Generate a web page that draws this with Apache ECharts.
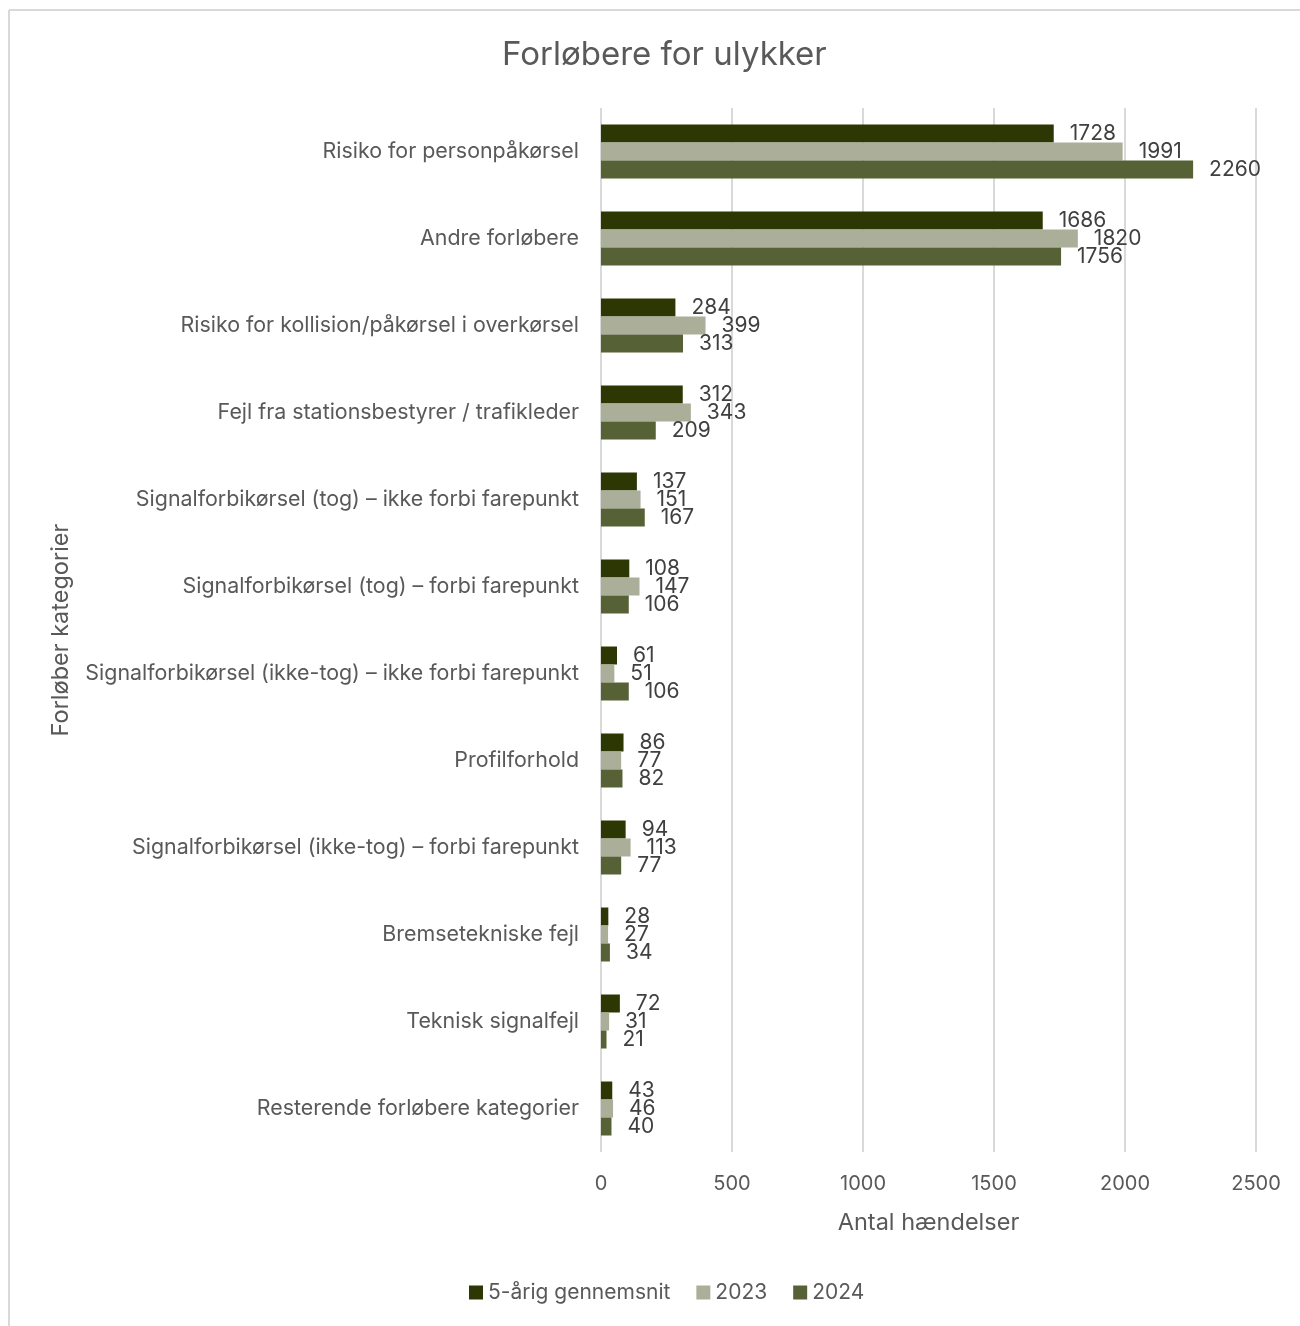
<!DOCTYPE html>
<html>
<head>
<meta charset="utf-8">
<script src="https://cdn.jsdelivr.net/npm/echarts@6/dist/echarts.min.js"></script>
<style>
  html, body { margin: 0; padding: 0; background: #fff; }
  #chart { width: 1300px; height: 1326px; }
</style>
</head>
<body>
<div id="chart"></div>
<script>
// Categories of accident precursors, top to bottom
const categories = [
  'Risiko for personpåkørsel',
  'Andre forløbere',
  'Risiko for kollision/påkørsel i overkørsel',
  'Fejl fra stationsbestyrer / trafikleder',
  'Signalforbikørsel (tog) – ikke forbi farepunkt',
  'Signalforbikørsel (tog) – forbi farepunkt',
  'Signalforbikørsel (ikke-tog) – ikke forbi farepunkt',
  'Profilforhold',
  'Signalforbikørsel (ikke-tog) – forbi farepunkt',
  'Bremsetekniske fejl',
  'Teknisk signalfejl',
  'Resterende forløbere kategorier'
];

const seriesNames = ['5-årig gennemsnit', '2023', '2024'];

const avg5yr  = [1728, 1686, 284, 312, 137, 108, 61, 86, 94, 28, 72, 43];
const year2023 = [1991, 1820, 399, 343, 151, 147, 51, 77, 113, 27, 31, 46];
const year2024 = [2260, 1756, 313, 209, 167, 106, 106, 82, 77, 34, 21, 40];

const xTicks = { min: 0, max: 2500, interval: 500 };

const colors = ['#2c3704', '#abaf9a', '#566136'];
const FONT = 'Inter, "Noto Sans", sans-serif';
const TEXT = '#595959';

const chart = echarts.init(document.getElementById('chart'), null, { renderer: 'canvas' });

const valueSets = [avg5yr, year2023, year2024];

chart.setOption({
  backgroundColor: '#ffffff',
  animation: false,
  color: colors,
  title: {
    text: 'Forløbere for ulykker',
    left: 497,
    top: 34,
    textStyle: { fontFamily: FONT, fontSize: 33, fontWeight: 'normal', color: TEXT }
  },
  legend: {
    data: seriesNames,
    bottom: 18,
    left: 464,
    itemWidth: 14,
    itemHeight: 14,
    itemGap: 26,
    icon: 'rect',
    textStyle: { fontFamily: FONT, fontSize: 21, color: TEXT }
  },
  grid: { left: 601, right: 44, top: 108, bottom: 174, containLabel: false },
  xAxis: {
    type: 'value',
    min: xTicks.min,
    max: xTicks.max,
    interval: xTicks.interval,
    name: 'Antal hændelser',
    nameLocation: 'middle',
    nameGap: 59,
    nameTextStyle: { fontFamily: FONT, fontSize: 23.5, color: TEXT },
    axisLine: { show: false },
    axisTick: { show: false },
    axisLabel: {
      fontFamily: FONT, fontSize: 20, color: TEXT, margin: 22,
      formatter: v => String(v)
    },
    splitLine: { show: true, lineStyle: { color: '#d9d9d9', width: 2 } }
  },
  yAxis: {
    type: 'category',
    data: categories,
    inverse: true,
    name: 'Forløber kategorier',
    nameLocation: 'middle',
    nameGap: 528,
    nameRotate: 90,
    nameTextStyle: { fontFamily: FONT, fontSize: 23.5, color: TEXT },
    axisLine: { show: false },
    axisTick: { show: false },
    axisLabel: { fontFamily: FONT, fontSize: 21.4, color: TEXT, margin: 22 }
  },
  graphic: [
    { type: 'line', shape: { x1: 9, y1: 10, x2: 1300, y2: 10 }, style: { stroke: '#d9d9d9', lineWidth: 2 } },
    { type: 'line', shape: { x1: 9, y1: 10, x2: 9, y2: 1326 }, style: { stroke: '#d9d9d9', lineWidth: 2 } }
  ],
  series: seriesNames.map((name, i) => ({
    name,
    type: 'bar',
    data: valueSets[i],
    barWidth: 18,
    barGap: '0%',
    barCategoryGap: '38%',
    itemStyle: { color: colors[i] },
    label: {
      show: true,
      position: 'right',
      distance: 16,
      fontFamily: FONT,
      fontSize: 21,
      color: '#404040'
    }
  }))
});
</script>
</body>
</html>
